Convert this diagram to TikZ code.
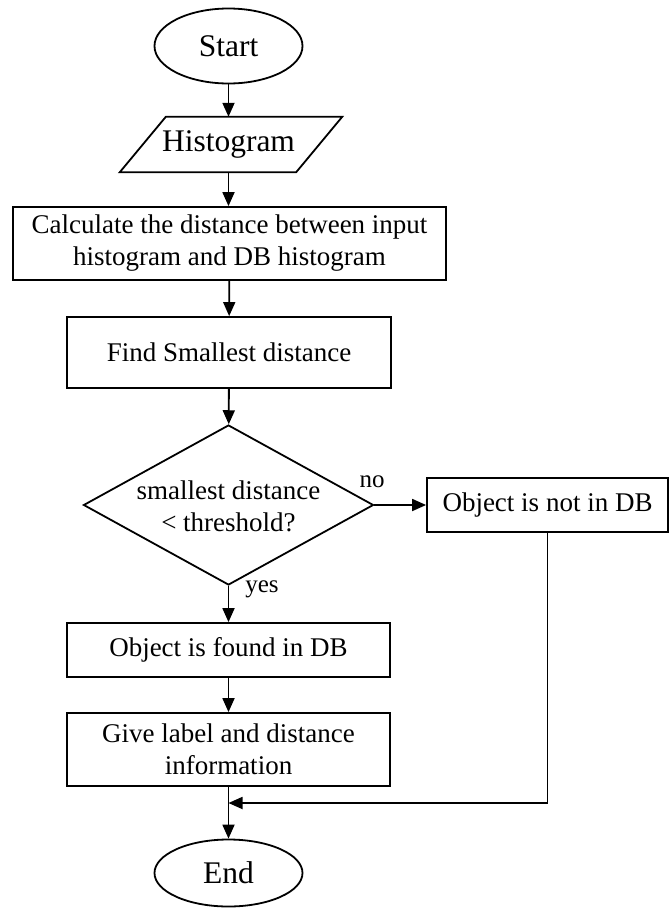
\documentclass[tikz,border=0pt]{standalone}
\usepackage{fontspec}
\setmainfont{Liberation Serif}
\usetikzlibrary{shapes.geometric,arrows.meta,calc}
\begin{document}
\begin{tikzpicture}[x=1pt,y=-1pt,
  every node/.style={font=\fontsize{27}{32}\selectfont},
  big/.style={font=\fontsize{31.5}{36}\selectfont},
  proc/.style={draw,line width=1.8pt,rectangle,inner sep=0pt,align=center},
  term/.style={draw,line width=1.8pt,ellipse,inner sep=0pt,big},
  iotext/.style={inner sep=0pt,big},
  outline/.style={line width=1.8pt,line join=miter},
  dec/.style={draw,line width=1.8pt,diamond,inner sep=0pt},
  arr/.style={line width=1.8pt,-{Triangle[length=14pt,width=12pt]}},
  lbl/.style={font=\fontsize{25}{30}\selectfont}]
\useasboundingbox (0,0) rectangle (670,908);
\node[term,minimum width=148pt,minimum height=75pt] (start) at (228.5,46) {Start};
\node[iotext,minimum width=172pt,minimum height=55pt] (hist) at (228.5,144.5) {Histogram};
\draw[outline] ($(hist.north west)+(23.5,0)$) -- ($(hist.north east)+(27.5,0)$)
  -- ($(hist.south east)+(-18.5,0)$) -- ($(hist.south west)+(-22.5,0)$) -- cycle;
\node[proc,minimum width=433pt,minimum height=73pt] (calc) at (229.5,243.5) {Calculate the distance between input\\histogram and DB histogram};
\node[proc,minimum width=324pt,minimum height=71pt] (find) at (229,352.5) {Find Smallest distance};
\node[dec,minimum width=290pt,minimum height=160pt] (dec) at (228.5,505) {};
\node[align=center] (dectxt) at (228.5,506) {smallest distance\\< threshold?};
\node[proc,minimum width=241pt,minimum height=54pt] (notdb) at (547.5,505) {Object is not in DB};
\node[proc,minimum width=323pt,minimum height=54pt] (found) at (228.5,650) {Object is found in DB};
\node[proc,minimum width=323pt,minimum height=73pt] (give) at (228.5,749.5) {Give label and distance\\information};
\node[term,minimum width=148pt,minimum height=67pt] (end) at (228.5,873) {End};
\coordinate (join) at (228.5,803);
\node[lbl] (no) at (372,482) {no};
\node[lbl] (yes) at (262,589) {yes};
\draw[arr] (start) -- (hist.north);
\draw[arr] (hist.south) -- (hist.south |- calc.north);
\draw[arr] (calc) -- (find);
\draw[arr] (find) -- (dec);
\draw[arr] (dec.east) -- (notdb.west);
\draw[arr] (dec.south) -- (found);
\draw[arr] (found) -- (give);
\draw[arr] (give) -- (end);
\draw[arr] (notdb.south) |- (join);
\end{tikzpicture}
\end{document}
